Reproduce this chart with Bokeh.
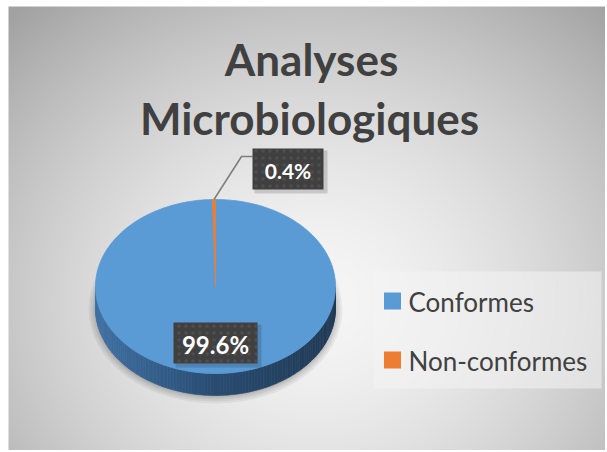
import numpy as np
from bokeh.plotting import figure
from bokeh.models import Range1d
from bokeh.core.properties import value
from bokeh.embed import file_html
from bokeh.resources import INLINE

# ---- data ----
categories = ["Conformes", "Non-conformes"]
values = [99.6, 0.4]
colors = ["#5b9bd5", "#ed7d31"]
title_lines = ["Analyses", "Microbiologiques"]

W, H = 605, 450
p = figure(width=W, height=H, x_range=Range1d(0, W), y_range=Range1d(H, 0),
           output_backend="svg", toolbar_location=None, min_border=0)
p.axis.visible = False
p.grid.visible = False
p.outline_line_color = None
p.background_fill_color = "white"
p.border_fill_color = "white"

# ---- chart area background (radial gradient) ----
CX0, CY0 = 8, 6
CW, CH = W - CX0, H - CY0
yy, xx = np.mgrid[0:CH, 0:CW]
sx = xx + CX0
sy = yy + CY0
r = np.sqrt(((sx - 315) / 330.0) ** 2 + ((sy - 300) / 290.0) ** 2)
v = 246 - 52 * np.clip(r, 0, 1.35) ** 1.6
v = np.clip(v, 0, 255).astype(np.uint32)
img = ((255 << 24) | (v << 16) | (v << 8) | v).astype(np.uint32)
p.image_rgba(image=[img], x=CX0, y=CY0, dw=CW, dh=CH)

# ---- 3D pie ----
cx, cy, rx, ry, depth = 215, 286, 120, 87, 22
font = value("Lato")

def pt(t):
    return cx + rx * np.sin(t), cy - ry * np.cos(t)

# shadow
for k, a in enumerate([0.05, 0.05, 0.06, 0.07]):
    p.ellipse(x=cx, y=cy + depth + 1, width=2 * rx + 14 - 4 * k, height=2 * ry + 14 - 4 * k,
              fill_color="black", fill_alpha=a, line_color=None)

# side band
ts = np.linspace(np.pi / 2, 3 * np.pi / 2, 120)
sxs, sys, scs = [], [], []
c_left = np.array([0x40, 0x72, 0xa6])
c_mid = np.array([0x29, 0x4c, 0x70])
c_right = np.array([0x20, 0x3a, 0x55])
for a, b in zip(ts[:-1], ts[1:]):
    xa, ya = pt(a)
    xb, yb = pt(b)
    sxs.append([xa, xb, xb, xa])
    sys.append([ya, yb, yb + depth, ya + depth])
    f = ((xa + xb) / 2 - (cx - rx)) / (2 * rx)
    if f < 0.5:
        c = c_left + (c_mid - c_left) * (f / 0.5)
    else:
        c = c_mid + (c_right - c_mid) * ((f - 0.5) / 0.5)
    scs.append("#%02x%02x%02x" % tuple(int(round(u)) for u in c))
p.patches(xs=sxs, ys=sys, fill_color=scs, line_color=scs, line_width=0.6)

# top face slices
total = sum(values)
start = 0.0
mids = []
for val, col in zip(values, colors):
    t0 = start / total * 2 * np.pi
    t1 = (start + val) / total * 2 * np.pi
    tt = np.linspace(t0, t1, max(2, int(200 * val / total) + 2))
    xs, ys = pt(tt)
    p.patch(x=np.r_[cx, xs], y=np.r_[cy, ys], fill_color=col, line_color=col, line_width=0.8)
    mids.append((t0 + t1) / 2)
    start += val

# ---- data labels ----
labels = ["%.1f%%" % v_ for v_ in values]
mx, my = pt(mids[1])
p.line(x=[mx, 241, 252], y=[my, 156, 156], line_color="#7f7f7f", line_width=1.6)

boxes = [(215, 342.5, 84, 41, 24), (287.5, 168.5, 71, 41, 21)]
for (bx, by, bw, bh, fs), lab in zip(boxes, labels):
    p.rect(x=bx + 3, y=by + 3, width=bw + 2, height=bh + 2, fill_color="black", fill_alpha=0.15, line_color=None)
    p.rect(x=bx, y=by, width=bw, height=bh, fill_color="#404040", line_color=None,
           hatch_pattern="dot", hatch_color="#4e4e4e", hatch_scale=7, hatch_weight=1.2)
    p.text(x=[bx], y=[by + 1], text=[lab], text_font=font, text_font_style="bold",
           text_font_size="%dpx" % fs, text_color="white", text_align="center", text_baseline="middle")

# ---- title ----
p.text(x=[311, 309], y=[58, 117], text=title_lines, text_font=font, text_font_style="bold",
       text_font_size="44px", text_color="#404040", text_align="center", text_baseline="middle")

# ---- legend ----
p.quad(left=373, right=601, top=271, bottom=388, fill_color="#f4f4f4", fill_alpha=0.55, line_color=None)
p.rect(x=[392, 392], y=[300.5, 359.5], width=17, height=17, fill_color=colors, line_color=None)
p.text(x=[408, 408], y=[301, 360], text=categories, text_font=font, text_font_size="26px",
       text_color="#404040", text_align="left", text_baseline="middle")

open("out.html", "w").write(file_html(p, INLINE))
